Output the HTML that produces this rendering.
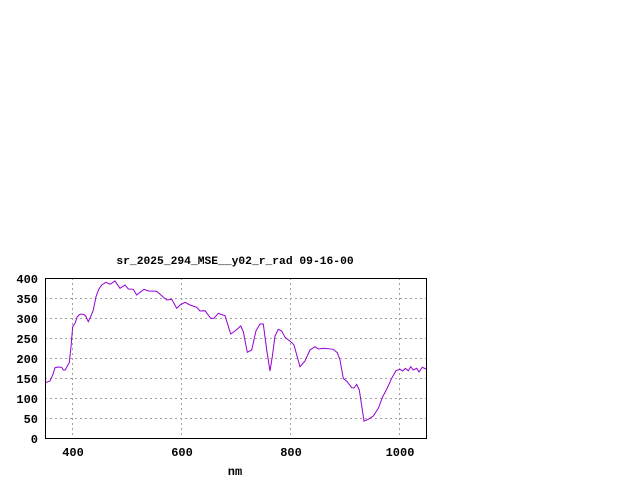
<!DOCTYPE html>
<html><head><meta charset="utf-8"><style>
html,body{margin:0;padding:0;background:#fff;}
svg{display:block;}
text{font-family:"Liberation Mono","DejaVu Sans Mono",monospace;font-size:12px;font-weight:bold;fill:#000;}
</style></head><body>
<svg width="640" height="480" viewBox="0 0 640 480" xmlns="http://www.w3.org/2000/svg">
<rect width="640" height="480" fill="#fff"/>
<g stroke="#a0a0a0" stroke-width="1" stroke-dasharray="2,3" fill="none">
<line x1="45" y1="298.5" x2="426" y2="298.5"/>
<line x1="45" y1="318.5" x2="426" y2="318.5"/>
<line x1="45" y1="338.5" x2="426" y2="338.5"/>
<line x1="45" y1="358.5" x2="426" y2="358.5"/>
<line x1="45" y1="378.5" x2="426" y2="378.5"/>
<line x1="45" y1="398.5" x2="426" y2="398.5"/>
<line x1="45" y1="418.5" x2="426" y2="418.5"/>
<line x1="72.5" y1="278" x2="72.5" y2="438"/>
<line x1="181.5" y1="278" x2="181.5" y2="438"/>
<line x1="290.5" y1="278" x2="290.5" y2="438"/>
<line x1="399.5" y1="278" x2="399.5" y2="438"/>
</g>
<polyline fill="none" stroke="#9400d3" stroke-width="1" points="45.3,382.7 50,381 52.7,375 55,367.7 58.3,367 61.7,367.3 63.3,370 65.3,370 67.3,366 69.3,362.7 71,346.7 72.7,326.7 75,323.3 77.3,316.7 80,314.3 83.3,314.3 85.7,316 88.3,321.7 90.7,316.7 93.3,310 96,296.7 98.7,289.3 101.7,285 106,282.3 110,284.3 115,281 120,288.3 125,285 128.3,289 133.3,289.3 136.7,295 140,292.3 144,289.3 148.3,291 156.7,291.3 161.7,295.7 166.7,300 171.7,299.3 176.7,308.3 180,305 185,302.3 190,305 196.7,307.3 200,311 205,310.7 210.7,318.3 214,318.3 218.3,313.3 220,314 225,315.7 230.7,334 235,331 240.7,326 243.3,331.7 247.3,352.3 251.7,350 256,330.7 260,324 263.3,324 266.7,350 270,371 272.3,356.7 275,336 278.3,329.3 281.7,331 285,337.3 290.7,341.7 294,345 300,366.7 305,361 310,350 315,346.7 318.3,349 323.3,348.3 333.3,349.3 337.3,352.7 340,360 343.3,378.3 347.3,381.7 351.7,387.7 354,388 356.7,384.3 359.3,390 364,421 368.3,419.3 373.3,416 378.3,408.3 382.7,396.7 386.7,389.3 391.7,378.3 396,370.7 400,369.3 402.7,371 405.3,368.3 408.3,370.7 410.7,366.7 413.3,370 416.7,368.3 419,372 422.3,367.3 426,369"/>
<rect x="45.5" y="278.5" width="381" height="160" fill="none" stroke="#000" stroke-width="1"/>
<g text-anchor="end">
<text x="38" y="283">400</text>
<text x="38" y="303">350</text>
<text x="38" y="323">300</text>
<text x="38" y="343">250</text>
<text x="38" y="363">200</text>
<text x="38" y="383">150</text>
<text x="38" y="403">100</text>
<text x="38" y="423">50</text>
<text x="38" y="443">0</text>
</g>
<g text-anchor="middle">
<text x="73" y="456">400</text>
<text x="182" y="456">600</text>
<text x="291" y="456">800</text>
<text x="400" y="456">1000</text>
<text x="235" y="475">nm</text>
<text x="235" y="264" style="font-size:11.3px">sr_2025_294_MSE__y02_r_rad 09-16-00</text>
</g>
</svg>
</body></html>
